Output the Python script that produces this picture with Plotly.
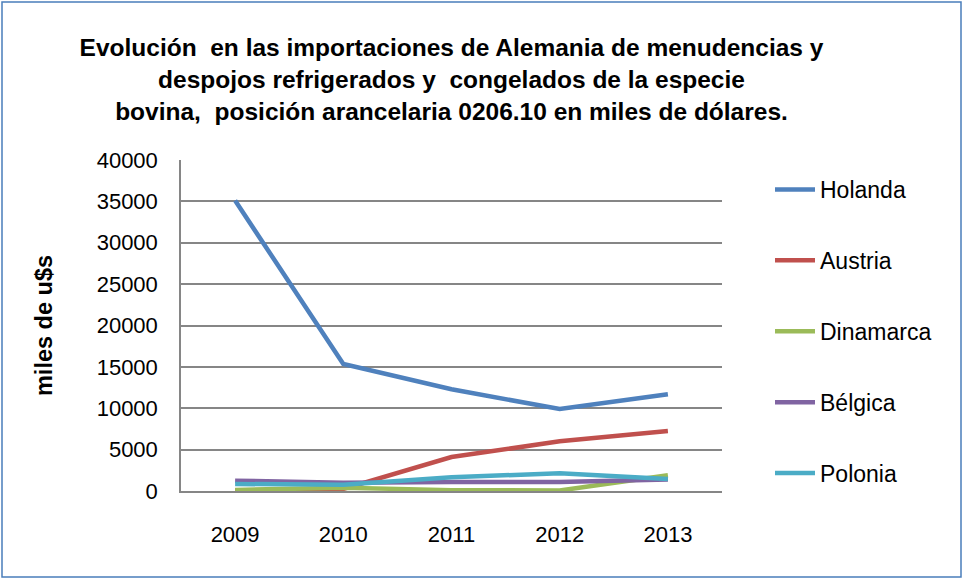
import plotly.graph_objects as go

years = ["2009", "2010", "2011", "2012", "2013"]
holanda = [35100, 15350, 12300, 9900, 11700]
austria = [50, 250, 4100, 6000, 7250]
dinamarca = [120, 400, 100, 60, 1900]
belgica = [1250, 1000, 1100, 1100, 1400]
polonia = [850, 750, 1650, 2150, 1450]

series = [
    ("Holanda", holanda, "#4F81BD"),
    ("Austria", austria, "#C0504D"),
    ("Dinamarca", dinamarca, "#9BBB59"),
    ("Bélgica", belgica, "#8064A2"),
    ("Polonia", polonia, "#4BACC6"),
]

W, H = 963, 579
ML, MR, MT, MB = 181, 241, 160, 88
PW, PH = W - ML - MR, H - MT - MB

fig = go.Figure()
for name, vals, col in series:
    fig.add_trace(go.Scatter(x=years, y=vals, name=name, mode="lines",
                             line=dict(color=col, width=4.5),
                             legendgroup=name))

FONT = "Liberation Sans, Arial, sans-serif"
fig.update_layout(
    width=W, height=H,
    margin=dict(l=ML, r=MR, t=MT, b=MB),
    paper_bgcolor="white", plot_bgcolor="white",
    font=dict(family=FONT, size=22, color="black"),
    title=dict(
        text="Evolución  en las importaciones de Alemania de menudencias y<br>despojos refrigerados y  congelados de la especie<br>bovina,  posición arancelaria 0206.10 en miles de dólares.",
        x=0.5, xref="paper", xanchor="center", y=1 - 56 / H, yanchor="middle",
        font=dict(family=FONT, size=24.5, color="black", weight="bold"),
    ),
    xaxis=dict(type="category", range=[-0.5, 4.5], showgrid=False, showline=True,
               linecolor="#868686", linewidth=1.5, ticks="", tickfont=dict(size=22),
               ticklabelstandoff=23),
    yaxis=dict(range=[0, 40000], dtick=5000, tickformat="d", showgrid=True,
               gridcolor="#868686", gridwidth=1.5, showline=True, linecolor="#868686",
               linewidth=1.5, ticks="", tickfont=dict(size=22), zeroline=False,
               ticklabelstandoff=17,
               title=dict(text="miles de u$s", font=dict(size=23.5, weight="bold"), standoff=37)),
    legend=dict(x=(770 - ML) / PW, xanchor="left", y=1 - 8 / PH, yanchor="top",
                font=dict(size=23), tracegroupgap=38, traceorder="grouped",
                itemwidth=40, bgcolor="rgba(0,0,0,0)"),
    showlegend=True,
)

fig.add_shape(type="rect", xref="paper", yref="paper",
              x0=(2 - ML) / PW, x1=(W - 2 - ML) / PW,
              y0=-(H - 2 - MT - PH) / PH, y1=1 + (MT - 2) / PH,
              line=dict(color="#4A7EBB", width=1.5), fillcolor="rgba(0,0,0,0)", layer="below")

fig.write_html("out.html", config={"displayModeBar": False},
               post_script="document.body.style.margin='0';document.body.style.overflow='hidden';")
